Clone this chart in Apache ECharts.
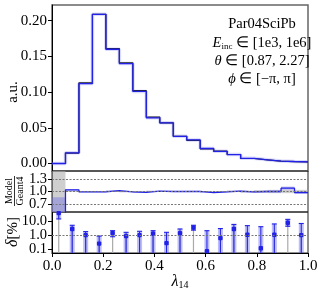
<!DOCTYPE html>
<html>
<head>
<meta charset="utf-8">
<script src="https://cdn.jsdelivr.net/npm/echarts@6/dist/echarts.min.js"></script>
<style>html,body{margin:0;padding:0;background:#fff}#c{width:324px;height:292px}</style>
</head>
<body>
<div id="c"></div>
<script>
// ---- data ----
const nBins = 19;
const xRange = [0, 1];
const modelValues = [0.000, 0.015, 0.112, 0.209, 0.160, 0.140, 0.101, 0.064, 0.057, 0.038, 0.033, 0.021, 0.017, 0.0125, 0.0072, 0.0052, 0.0034, 0.0028, 0.0023];
const geant4Values = [0.000, 0.0145, 0.113, 0.209, 0.161, 0.141, 0.102, 0.065, 0.057, 0.038, 0.0325, 0.0205, 0.0173, 0.0126, 0.0070, 0.0052, 0.0033, 0.0026, 0.0023];
const ratioValues = [0.0, 1.04, 0.99, 0.99, 1.02, 0.99, 0.98, 1.01, 1.00, 1.00, 1.005, 0.975, 0.99, 1.01, 0.99, 1.00, 1.00, 1.08, 0.975];
const ratioModelErr = [0.86, 0.02, 0.01, 0.01, 0.01, 0.01, 0.01, 0.01, 0.01, 0.01, 0.01, 0.01, 0.01, 0.015, 0.02, 0.02, 0.02, 0.04, 0.03];
const ratioGeant4Err = [1.0, 0.01, 0.005, 0.005, 0.005, 0.005, 0.005, 0.005, 0.006, 0.008, 0.01, 0.01, 0.01, 0.015, 0.02, 0.03, 0.04, 0.04, 0.04];
const deltaValues = [40, 2.8, 1.0, 0.24, 1.4, 0.85, 1.0, 1.25, 0.26, 1.4, 3.5, 0.068, 0.6, 2.8, 1.05, 0.11, 1.05, 8.0, 1.0];
const deltaLower = [15, 0, 0, 0, 0.76, 0, 0, 0, 0, 0, 2.3, 0, 0, 0, 0, 0, 0, 4.4, 0];
const deltaUpper = [100, 5.2, 1.8, 0.85, 2.1, 1.6, 1.9, 2.1, 1.6, 2.8, 5.2, 2.1, 3.0, 6.0, 4.9, 4.1, 6.5, 14, 7.0];
const xTicks = [0, 0.2, 0.4, 0.6, 0.8, 1.0];
const topTicks = [0, 0.05, 0.10, 0.15, 0.20];
const ratioTicks = [0.7, 1.0, 1.3];
const deltaTicks = [0.1, 1, 10];
const topRange = [-0.0105, 0.222];
const ratioRange = [0.5, 1.5];
const deltaRange = [0.05, 48];

// ---- derived ----
const binEdges = Array.from({length: nBins + 1}, (_, i) => xRange[0] + (xRange[1] - xRange[0]) * i / nBins);
const binCenters = binEdges.slice(0, nBins).map((e, i) => (e + binEdges[i + 1]) / 2);
const stepData = vals => binEdges.map((e, i) => [e, vals[Math.min(i, nBins - 1)]]);
const clamp = (v, r) => Math.min(r[1], Math.max(r[0], v));
const withEnds = (ticks, range) => [range[0]].concat(ticks, [range[1]]);
const isTick = (v, ticks) => ticks.some(t => Math.abs(t - v) < 1e-9 * Math.max(1, Math.abs(t)));

const FONT = 'Liberation Serif';
const BLUE = '#2222e6';
const tickFont = {fontFamily: FONT, fontSize: 15, color: '#000', hideOverlap: false};

const chart = echarts.init(document.getElementById('c'), null, {renderer: 'canvas'});

const ratioBandData = binEdges.slice(0, nBins).map((e, i) => [e, binEdges[i + 1], ratioValues[i] - ratioModelErr[i], ratioValues[i] + ratioModelErr[i]]);
const ratioG4BandData = binEdges.slice(0, nBins).map((e, i) => [e, binEdges[i + 1], 1 - ratioGeant4Err[i], 1 + ratioGeant4Err[i]]);
const deltaData = binCenters.map((c, i) => [c, deltaValues[i], deltaLower[i], deltaUpper[i]]);

function bandRenderer(color) {
  return function (params, api) {
    const p1 = api.coord([api.value(0), clamp(api.value(3), ratioRange)]);
    const p2 = api.coord([api.value(1), clamp(api.value(2), ratioRange)]);
    return {type: 'rect', shape: {x: p1[0], y: p1[1], width: p2[0] - p1[0], height: p2[1] - p1[1]}, style: {fill: color}};
  };
}

function deltaRenderer(params, api) {
  const x = api.value(0), v = api.value(1), lo = api.value(2), hi = api.value(3);
  const loC = Math.max(lo, deltaRange[0]), hiC = Math.min(hi, deltaRange[1]);
  const pb = api.coord([x, deltaRange[0]]);
  const pv = api.coord([x, clamp(v, deltaRange)]);
  const pl = api.coord([x, loC]);
  const ph = api.coord([x, hiC]);
  const children = [
    {type: 'line', shape: {x1: pb[0], y1: pb[1], x2: pv[0], y2: pv[1]}, style: {stroke: '#aaaaaa', lineWidth: 1.2}},
    {type: 'rect', shape: {x: ph[0] - 2.5, y: ph[1], width: 5, height: pl[1] - ph[1]}, style: {fill: 'rgba(90,90,235,0.4)'}},
    {type: 'line', shape: {x1: pl[0], y1: pl[1], x2: ph[0], y2: ph[1]}, style: {stroke: BLUE, lineWidth: 1.0}}
  ];
  if (lo >= deltaRange[0]) children.push({type: 'line', shape: {x1: pl[0] - 2.5, y1: pl[1], x2: pl[0] + 2.5, y2: pl[1]}, style: {stroke: BLUE, lineWidth: 1.1}});
  if (hi <= deltaRange[1]) children.push({type: 'line', shape: {x1: ph[0] - 2.5, y1: ph[1], x2: ph[0] + 2.5, y2: ph[1]}, style: {stroke: BLUE, lineWidth: 1.1}});
  children.push({type: 'rect', shape: {x: pv[0] - 2.2, y: pv[1] - 2.2, width: 4.4, height: 4.4, r: 1}, style: {fill: BLUE}});
  return {type: 'group', children: children};
}

const grids = [
  {left: 52, top: 5, width: 256, height: 166},
  {left: 52, top: 171, width: 256, height: 41},
  {left: 52, top: 212, width: 256, height: 41}
].map(g => Object.assign({show: true, borderColor: '#222', borderWidth: 1, backgroundColor: 'transparent'}, g));
grids[0].borderColor = '#666';
grids[0].borderWidth = 1.5;

const baseX = i => ({
  type: 'value', gridIndex: i, min: xRange[0], max: xRange[1], interval: 0.2,
  axisLine: {show: false}, axisTick: {show: false}, axisLabel: {show: false}, splitLine: {show: false}
});
const xAxes = [baseX(0), baseX(1), baseX(2)];
xAxes[2].axisLine = {show: true, lineStyle: {color: '#000'}};
xAxes[2].axisTick = {show: true, length: 4, lineStyle: {color: '#000'}, customValues: xTicks};
xAxes[2].axisLabel = Object.assign({show: true, customValues: xTicks, formatter: v => v.toFixed(1), margin: 6, showMinLabel: true, showMaxLabel: true}, tickFont);

const yAxes = [
  {type: 'value', gridIndex: 0, min: topRange[0], max: topRange[1],
   axisLine: {show: true, lineStyle: {color: '#000'}}, splitLine: {show: false},
   axisTick: {show: true, length: 4, customValues: topTicks, lineStyle: {color: '#000'}},
   axisLabel: Object.assign({customValues: topTicks, formatter: v => v.toFixed(2), margin: 5, showMinLabel: true, showMaxLabel: true}, tickFont)},
  {type: 'value', gridIndex: 1, min: ratioRange[0], max: ratioRange[1],
   axisLine: {show: true, lineStyle: {color: '#000'}}, splitLine: {show: false},
   axisTick: {show: true, length: 4, customValues: ratioTicks, lineStyle: {color: '#000'}},
   axisLabel: Object.assign({customValues: withEnds(ratioTicks, ratioRange), showMinLabel: false, showMaxLabel: false,
     formatter: v => isTick(v, ratioTicks) ? v.toFixed(1) : '', margin: 5, lineHeight: 12}, tickFont, {fontSize: 14.5})},
  {type: 'log', logBase: 10, gridIndex: 2, min: deltaRange[0], max: deltaRange[1],
   axisLine: {show: true, lineStyle: {color: '#000'}}, splitLine: {show: false},
   axisTick: {show: true, length: 4, customValues: deltaTicks, lineStyle: {color: '#000'}},
   axisLabel: Object.assign({customValues: withEnds(deltaTicks, deltaRange), showMinLabel: false, showMaxLabel: false,
     formatter: v => isTick(v, deltaTicks) ? v.toFixed(1) : '', margin: 5, lineHeight: 12}, tickFont, {fontSize: 14.5})}
];

const dotted = {color: '#777', type: [2, 1.5], width: 1};

const series = [
  {type: 'line', xAxisIndex: 0, yAxisIndex: 0, step: 'end', showSymbol: false, silent: true, animation: false,
   data: stepData(modelValues), lineStyle: {color: 'rgba(130,130,240,0.3)', width: 3.5}},
  {type: 'line', xAxisIndex: 0, yAxisIndex: 0, step: 'end', showSymbol: false, silent: true, animation: false,
   data: stepData(geant4Values), lineStyle: {color: '#222', width: 1.2}},
  {type: 'line', xAxisIndex: 0, yAxisIndex: 0, step: 'end', showSymbol: false, silent: true, animation: false,
   data: stepData(modelValues), lineStyle: {color: BLUE, width: 1.3}},
  {type: 'custom', xAxisIndex: 1, yAxisIndex: 1, renderItem: bandRenderer('rgba(175,175,175,0.6)'), data: ratioG4BandData,
   encode: {x: [0, 1], y: [2, 3]}, animation: false, silent: true, z: 1},
  {type: 'custom', xAxisIndex: 1, yAxisIndex: 1, renderItem: bandRenderer('rgba(100,100,225,0.4)'), data: ratioBandData,
   encode: {x: [0, 1], y: [2, 3]}, animation: false, silent: true, z: 2},
  {type: 'line', xAxisIndex: 1, yAxisIndex: 1, step: 'end', showSymbol: false, silent: true, animation: false, z: 3,
   data: stepData(ratioValues), lineStyle: {color: BLUE, width: 1.3},
   markLine: {silent: true, symbol: 'none', label: {show: false}, lineStyle: dotted, animation: false,
     data: ratioTicks.map(t => ({yAxis: t}))}},
  {type: 'custom', xAxisIndex: 2, yAxisIndex: 2, renderItem: deltaRenderer, data: deltaData,
   encode: {x: 0, y: 1}, animation: false, silent: true, z: 3,
   markLine: {silent: true, symbol: 'none', label: {show: false}, lineStyle: dotted, animation: false,
     data: [{yAxis: 1}]}}
];

const textStyleBase = {fontFamily: FONT, fontSize: 14.5, fill: '#000', align: 'center', verticalAlign: 'middle'};
const richDefs = {
  i: {fontFamily: FONT, fontStyle: 'italic', fontSize: 14.5, lineHeight: 16},
  s: {fontFamily: FONT, fontSize: 9, lineHeight: 9, verticalAlign: 'bottom'},
  n: {fontFamily: FONT, fontSize: 14.5, lineHeight: 16},
  I: {fontFamily: FONT, fontStyle: 'italic', fontSize: 16, lineHeight: 17},
  S: {fontFamily: FONT, fontSize: 10, lineHeight: 10, verticalAlign: 'bottom'}
};
const annX = 262;
const graphic = [
  {type: 'text', x: annX, y: 24, style: Object.assign({}, textStyleBase, {text: 'Par04SciPb'})},
  {type: 'text', x: annX, y: 43, style: Object.assign({}, textStyleBase, {text: '{i|E}{s|inc}{n| ∈ [1e3, 1e6]}', rich: richDefs})},
  {type: 'text', x: annX, y: 61, style: Object.assign({}, textStyleBase, {text: '{i|θ}{n| ∈ [0.87, 2.27]}', rich: richDefs})},
  {type: 'text', x: annX, y: 79, style: Object.assign({}, textStyleBase, {text: '{i|ϕ}{n| ∈ [−π, π]}', rich: richDefs})},
  {type: 'text', x: 13, y: 92, rotation: Math.PI / 2, style: Object.assign({}, textStyleBase, {text: 'a.u.', fontSize: 15})},
  {type: 'group', x: 14, y: 191, rotation: Math.PI / 2, children: [
    {type: 'text', x: 0, y: -5, style: Object.assign({}, textStyleBase, {text: 'Model', fontSize: 10})},
    {type: 'line', shape: {x1: -15, y1: 0.5, x2: 15, y2: 0.5}, style: {stroke: '#000', lineWidth: 0.8}},
    {type: 'text', x: 0, y: 6, style: Object.assign({}, textStyleBase, {text: 'Geant4', fontSize: 10})}
  ]},
  {type: 'text', x: 13, y: 232, rotation: Math.PI / 2, style: Object.assign({}, textStyleBase, {text: '{I|δ}{N|[%]}', rich: Object.assign({N: {fontFamily: FONT, fontSize: 15, lineHeight: 17}}, richDefs)})},
  {type: 'text', x: 180, y: 282, style: Object.assign({}, textStyleBase, {text: '{I|λ}{S|14}', rich: richDefs})}
];

chart.setOption({
  animation: false,
  grid: grids,
  xAxis: xAxes,
  yAxis: yAxes,
  series: series,
  graphic: graphic
});
</script>
</body>
</html>
